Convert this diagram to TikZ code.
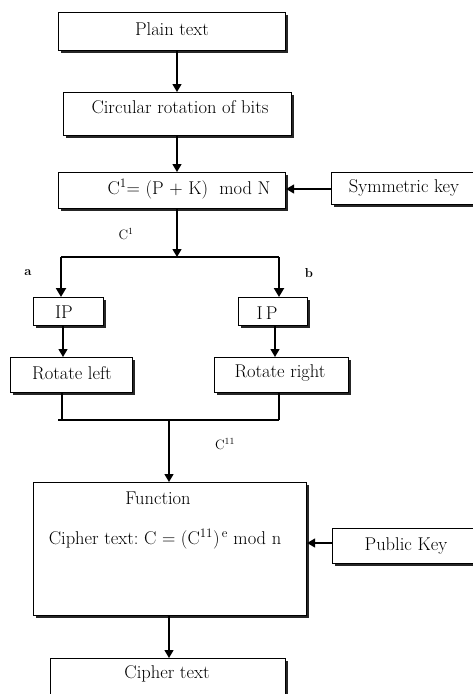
\documentclass[tikz,border=0pt]{standalone}
\usetikzlibrary{arrows.meta,shadows}
\begin{document}
\begin{tikzpicture}[x=1pt,y=-1pt,
  every node/.style={font=\fontsize{18.5}{22}\selectfont},
  box/.style={draw,line width=1.1pt,fill=white,anchor=north west,inner sep=0pt,
    drop shadow={shadow xshift=2.6pt,shadow yshift=-2.6pt,fill=black!85,opacity=1}},
  txt/.style={inner sep=0pt},
  flow/.style={line width=1.3pt,-{Triangle[width=9pt,length=8pt]}},
  branch/.style={line width=2pt,-{Triangle[width=10pt,length=9pt]}},
  mergeline/.style={line width=1.2pt},
  tag/.style={inner sep=0pt,font=\fontsize{13.5}{16}\selectfont}]
\useasboundingbox (0,0) rectangle (472,694);

% encryption chain
\node[box,minimum width=227pt,minimum height=38pt] (plain) at (58,12) {};
\node[txt] (plainT) at (172,29) {Plain text};
\node[box,minimum width=228pt,minimum height=43pt] (circ) at (63,92) {};
\node[txt] (circT) at (180,107) {Circular rotation of bits};
\node[box,minimum width=227pt,minimum height=36pt] (cone) at (58,172) {};
\node[txt] (coneT) at (189,189) {C\textsuperscript{1}= (P + K)\ \ mod N};
\node[box,minimum width=150pt,minimum height=32pt] (symk) at (331,172) {};
\node[txt] (symkT) at (404,188) {Symmetric key};
\node[tag] (lblone) at (126,234) {C\textsuperscript{1}};

\draw[flow] (plain.south -| 177,0) -- (circ.north -| 177,0);
\draw[flow] (circ.south -| 177,0) -- (cone.north -| 177,0);
\draw[flow] (symk.west |- 0,189) -- (cone.east |- 0,189);

% split into the two branches
\coordinate (split) at (177,257);
\coordinate (splitL) at (61,257);
\coordinate (splitR) at (279,257);
\draw[flow] (cone.south -| split) -- (split);
\draw[mergeline,line width=2pt] (splitL) -- (splitR);
\node[tag,font=\bfseries\fontsize{13}{15}\selectfont] (la) at (28,273) {a};
\node[tag,font=\bfseries\fontsize{13}{15}\selectfont] (lb) at (309,273) {b};

\node[box,minimum width=70pt,minimum height=28pt] (ipl) at (33,297) {};
\node[txt] (iplT) at (64,312) {IP};
\node[box,minimum width=69pt,minimum height=28pt] (ipr) at (238,297) {};
\node[txt] (iprT) at (267,313) {I\,P};
\draw[branch] (splitL) -- (ipl.north -| splitL);
\draw[branch] (splitR) -- (ipr.north -| splitR);

\node[box,minimum width=122pt,minimum height=35pt] (rotl) at (10,357) {};
\node[txt] (rotlT) at (72,373) {Rotate left};
\node[box,minimum width=134pt,minimum height=35pt] (rotr) at (214,357) {};
\node[txt] (rotrT) at (280,373) {Rotate right};
\draw[flow] (ipl.south -| 63,0) -- (rotl.north -| 63,0);
\draw[flow] (ipr.south -| 275,0) -- (rotr.north -| 275,0);

% merge of the branches
\coordinate (mergeL) at (58,420);
\coordinate (mergeR) at (279,420);
\coordinate (merge) at (169,420);
\draw[mergeline] (rotl.south -| 62,0) -- (62,420);
\draw[mergeline] (rotr.south -| mergeR) -- (mergeR);
\draw[mergeline,line width=1.6pt] (mergeL) -- (mergeR);
\node[tag] (lbltwo) at (225,444) {C\textsuperscript{11}};

% public-key stage
\node[box,minimum width=273pt,minimum height=133pt] (func) at (33,482) {};
\node[txt] (funcT) at (158,498) {Function};
\node[txt] (funcF) at (165,539) {Cipher text:\ C = (C\textsuperscript{11})\textsuperscript{\,e}\ mod n};
\node[box,minimum width=150pt,minimum height=35pt] (pubk) at (332,528) {};
\node[txt] (pubkT) at (406,546) {Public Key};
\draw[flow] (merge) -- (func.north -| merge);
\draw[flow] (pubk.west |- 0,543) -- (func.east |- 0,543);

\node[box,minimum width=235pt,minimum height=60pt] (ciph) at (50,658) {};
\node[txt] (ciphT) at (167,674) {Cipher text};
\draw[flow] (func.south -| merge) -- (ciph.north -| merge);
\end{tikzpicture}
\end{document}
